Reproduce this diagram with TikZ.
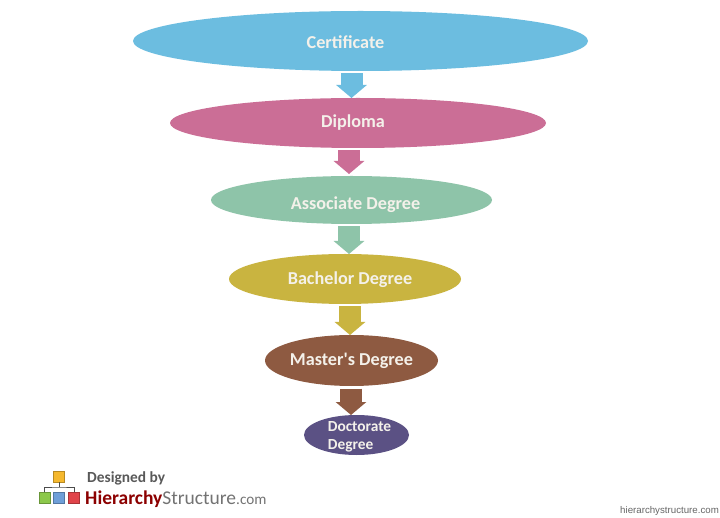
\documentclass[tikz,border=0pt]{standalone}
\usepackage{fontspec}
\setmainfont{Carlito}
\newfontfamily\smallfont{Liberation Sans}
\usetikzlibrary{shapes.geometric,arrows.meta}
\definecolor{cCert}{HTML}{6CBDE0}
\definecolor{cDipl}{HTML}{CB6E96}
\definecolor{cAssoc}{HTML}{8EC4A9}
\definecolor{cBach}{HTML}{C9B440}
\definecolor{cMast}{HTML}{8E5A41}
\definecolor{cDoct}{HTML}{5B5184}
\definecolor{cText}{HTML}{F4F1EA}
\definecolor{lOrange}{HTML}{F5B82E}
\definecolor{lGreen}{HTML}{8CC84B}
\definecolor{lBlue}{HTML}{6F9FD8}
\definecolor{lRed}{HTML}{E0444A}
\tikzset{
  level/.style={ellipse,inner sep=0pt,outer sep=0pt,draw=none},
  title/.style={text=cText,font=\bfseries\fontsize{18.2}{20}\selectfont,inner sep=0pt},
  blockarrow/.style={line width=22pt,shorten <=2.5pt,-{Triangle[length=13pt,width=30pt]}},
  logobox/.style={minimum size=11.4pt,inner sep=0pt,outer sep=0pt,draw=#1!75!black,line width=.6pt,fill=#1},
  logoline/.style={draw=black!70,line width=1pt},
}
\begin{document}
\begin{tikzpicture}[x=1pt,y=-1pt]
\useasboundingbox (0,0) rectangle (720,518);
\fill[white] (0,0) rectangle (720,518);
\node[level,fill=cCert,minimum width=455pt,minimum height=60pt,
  label={[title,xshift=-15pt,yshift=-1pt]center:Certificate}] (cert) at (360.5,41) {};
\node[level,fill=cDipl,minimum width=376pt,minimum height=50pt,
  label={[title,xshift=-5pt]center:Diploma}] (dipl) at (358,123) {};
\node[level,fill=cAssoc,minimum width=281pt,minimum height=48pt,
  label={[title,xshift=4pt,yshift=-4.5pt]center:Associate Degree}] (assoc) at (351.5,200) {};
\node[level,fill=cBach,minimum width=232pt,minimum height=50pt,
  label={[title,xshift=5pt,yshift=-1pt]center:Bachelor Degree}] (bach) at (345,279) {};
\node[level,fill=cMast,minimum width=173pt,minimum height=51pt,
  label={[title]center:Master\textquotesingle s Degree}] (mast) at (351.5,360.5) {};
\node[level,fill=cDoct,minimum width=105pt,minimum height=40pt,
  label={[title,font=\bfseries\fontsize{15.4}{18}\selectfont,align=left,xshift=3pt,yshift=-1.5pt]center:Doctorate\\Degree}] (doct) at (356.5,435) {};
\coordinate (ax1) at (351.5,0);
\coordinate (ax2) at (349,0);
\coordinate (ax3) at (349,0);
\coordinate (ax4) at (350,0);
\coordinate (ax5) at (351,0);
\draw[blockarrow,cCert] (cert.south -| ax1) -- (dipl.north -| ax1);
\draw[blockarrow,cDipl] (dipl.south -| ax2) -- ([yshift=2pt]assoc.north -| ax2);
\draw[blockarrow,cAssoc] (assoc.south -| ax3) -- (bach.north -| ax3);
\draw[blockarrow,cBach] (bach.south -| ax4) -- (mast.north -| ax4);
\draw[blockarrow,cMast] (mast.south -| ax5) -- (doct.north -| ax5);
% logo
\node[logobox=lOrange] (lroot) at (59,476.5) {};
\node[logobox=lGreen] (lg) at (44.5,498) {};
\node[logobox=lBlue] (lb) at (59,498) {};
\node[logobox=lRed] (lr) at (74,498) {};
\coordinate (lbar) at (59,487);
\draw[logoline] (lroot.south) -- (lbar);
\draw[logoline] (lg.north) |- (lbar) -| (lr.north);
\node[anchor=west,inner sep=0pt,text=black!65,font=\bfseries\fontsize{15.4}{17}\selectfont] (ldes) at (87,478) {Designed by};
\node[anchor=west,inner sep=0pt,font=\fontsize{19.5}{22}\selectfont] (lname) at (85,499) {\textcolor{red!55!black}{\bfseries Hierarchy}\textcolor{black!55}{Structure}\textcolor{black!55}{\fontsize{15.2}{18}\selectfont.com}};
\node[anchor=west,inner sep=0pt,text=black!60,font=\smallfont\fontsize{9.7}{11}\selectfont] (lurl) at (620,510.5) {hierarchystructure.com};
\end{tikzpicture}
\end{document}
